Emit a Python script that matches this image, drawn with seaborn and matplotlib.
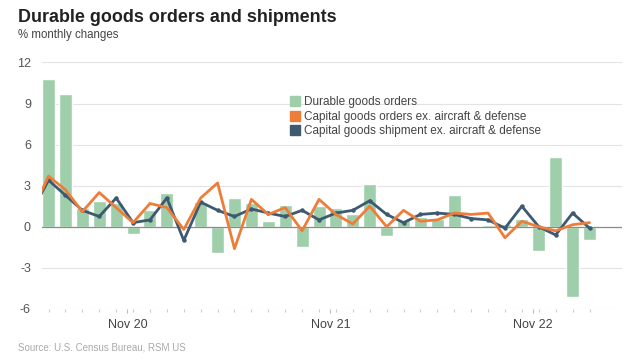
import numpy as np
import pandas as pd
import matplotlib
matplotlib.use("Agg")
import matplotlib.pyplot as plt
from matplotlib.lines import Line2D
import seaborn as sns

# ---- data (monthly % changes, Jun 2020 .. Feb 2023) ----
bar_months = pd.date_range("2020-06-01", periods=33, freq="MS").strftime("%b %y").tolist()
durable = [10.8, 9.7, 1.4, 1.9, 1.7, -0.5, 1.2, 2.5, -0.1, 1.8, -1.9, 2.1, 1.7, 0.4,
           1.6, -1.5, 1.5, 1.4, 0.9, 3.1, -0.7, 0.5, 0.7, 0.6, 2.3, -0.1, 0.1, 0.2,
           0.6, -1.8, 5.1, -5.1, -0.95]
# line series start one month earlier (May 2020), clipped at the left edge
line_pos = list(range(-1, 33))
cap_orders = [1.0, 3.7, 2.7, 1.1, 2.5, 1.4, 0.3, 1.7, 1.4, -0.2, 2.1, 3.2, -1.6, 2.0,
              0.9, 1.4, -0.3, 2.0, 0.9, 0.2, 1.5, 0.0, 1.2, 0.4, 0.5, 1.0, 0.9, 1.0,
              -0.8, 0.4, 0.0, -0.3, 0.15, 0.3]
cap_ship = [1.1, 3.4, 2.3, 1.2, 0.75, 2.1, 0.3, 0.5, 2.1, -1.0, 1.8, 1.2, 0.75, 1.3,
            1.0, 0.75, 1.2, 0.5, 1.0, 1.2, 1.9, 0.9, 0.3, 0.9, 1.0, 0.9, 0.6, 0.5,
            -0.1, 1.5, 0.0, -0.6, 1.0, -0.1]
yticks = [-6, -3, 0, 3, 6, 9, 12]
xlabel_idx = [5, 17, 29]
xlabels = ["Nov 20", "Nov 21", "Nov 22"]

labels = ["Durable goods orders",
          "Capital goods orders ex. aircraft & defense",
          "Capital goods shipment ex. aircraft & defense"]
c_bar = "#9ecfaa"
c_orange = "#ee7d3a"
c_blue = "#3d5a70"

sns.set_theme(style="white")
plt.rcParams["font.family"] = ["Liberation Sans", "DejaVu Sans"]

fig = plt.figure(figsize=(6.3, 3.63), dpi=100)
ax = fig.add_axes([0.0667, 0.149, 0.92, 0.679])

for y in yticks:
    if y != 0:
        ax.axhline(y, color="#e3e3e3", lw=0.8, zorder=0)

bars_df = pd.DataFrame({"month": bar_months, "value": durable})
sns.barplot(data=bars_df, x="month", y="value", color=c_bar, saturation=1,
            width=0.77, ax=ax, zorder=2)

ax.axhline(0, color="#8a8a8a", lw=0.9, zorder=3)

lines_df = pd.DataFrame({"pos": line_pos, "orders": cap_orders, "ship": cap_ship})
sns.lineplot(data=lines_df, x="pos", y="ship", color=c_blue, lw=2.0, marker="o",
             markersize=3.2, markeredgewidth=0, ax=ax, zorder=4)
sns.lineplot(data=lines_df, x="pos", y="orders", color=c_orange, lw=2.0, ax=ax, zorder=5)

ax.set_xlim(-0.385, 33.9)
ax.set_ylim(-6, 12)
ax.set_xlabel("")
ax.set_ylabel("")
for s in ax.spines.values():
    s.set_visible(False)

ax.set_yticks(yticks)
ax.set_yticklabels([str(v) for v in yticks])
ax.tick_params(axis="y", length=0, labelsize=9, labelcolor="#555555", pad=8)

ax.set_xticks([i - 0.33 for i in xlabel_idx])
ax.set_xticklabels(xlabels)
ax.set_xticks(range(33), minor=True)
ax.tick_params(axis="x", which="major", length=3, color="#bbbbbb", width=0.8,
               labelsize=9, labelcolor="#444444", pad=4)
ax.tick_params(axis="x", which="minor", length=2, color="#cccccc", width=0.8, bottom=True)
ax.tick_params(axis="x", which="major", bottom=True)

handles = [Line2D([], [], marker="s", ls="", color=c, markersize=7) for c in (c_bar, c_orange, c_blue)]
ax.legend(handles, labels, loc="upper left", bbox_to_anchor=(0.428, 0.862), frameon=False,
          fontsize=8.5, labelcolor="#444444", handlelength=0.8, handletextpad=0.35,
          labelspacing=0.2, borderpad=0, borderaxespad=0)

fig.text(18 / 630, 1 - 18 / 363, "Durable goods orders and shipments", fontsize=12.9,
         fontweight="bold", color="#222222", va="center", ha="left")
fig.text(18 / 630, 1 - 35 / 363, "% monthly changes", fontsize=8.3, color="#444444",
         va="center", ha="left")
fig.text(18 / 630, 1 - 347 / 363, "Source: U.S. Census Bureau, RSM US", fontsize=7,
         color="#aaaaaa", va="center", ha="left")

fig.savefig("out.png", dpi=100)
